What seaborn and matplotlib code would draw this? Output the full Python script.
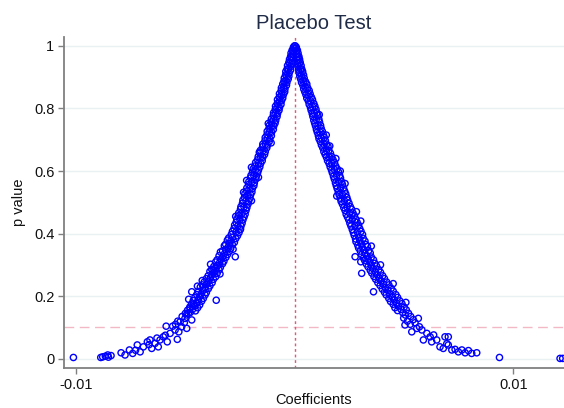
import matplotlib
matplotlib.use("Agg")
import matplotlib.pyplot as plt
import seaborn as sns
import pandas as pd

# Placebo coefficients: (p value, coefficient in units of 1e-3)
left_top = [
    (1.000, -0.01), (0.996, -0.06), (0.991, -0.02), (0.986, -0.12), (0.982, -0.04), (0.977, -0.17),
    (0.973, -0.06), (0.966, -0.19), (0.963, -0.08), (0.957, -0.24), (0.954, -0.12), (0.947, -0.27),
    (0.943, -0.13), (0.937, -0.33), (0.934, -0.18), (0.926, -0.35), (0.923, -0.19), (0.918, -0.41),
    (0.914, -0.25), (0.907, -0.42), (0.903, -0.27), (0.897, -0.48), (0.894, -0.30), (0.886, -0.50),
    (0.883, -0.36), (0.878, -0.55), (0.874, -0.38), (0.866, -0.61), (0.862, -0.45), (0.857, -0.62),
    (0.853, -0.46), (0.847, -0.70), (0.844, -0.52), (0.836, -0.71), (0.833, -0.55), (0.828, -0.79),
    (0.824, -0.61), (0.816, -0.80), (0.813, -0.63), (0.807, -0.88), (0.803, -0.70), (0.797, -0.89),
    (0.794, -0.72), (0.786, -0.97), (0.783, -0.79), (0.778, -0.98), (0.774, -0.81), (0.766, -1.07),
    (0.762, -0.87), (0.757, -1.08), (0.753, -0.90), (0.746, -1.16), (0.744, -0.96), (0.736, -1.18),
    (0.733, -0.98), (0.727, -1.26), (0.724, -1.06), (0.716, -1.27), (0.713, -1.07), (0.707, -1.35),
    (0.703, -1.14), (0.697, -1.36), (0.694, -1.17), (0.686, -1.46), (0.683, -1.25), (0.678, -1.47),
    (0.674, -1.28), (0.666, -1.57), (0.662, -1.35), (0.657, -1.60), (0.653, -1.38), (0.646, -1.67),
    (0.644, -1.46), (0.636, -1.70), (0.633, -1.49), (0.627, -1.79), (0.624, -1.56), (0.616, -1.82),
    (0.613, -1.60), (0.607, -1.90), (0.603, -1.66), (0.597, -1.93), (0.594, -1.70), (0.586, -2.00),
    (0.583, -1.76), (0.578, -2.02), (0.574, -1.78), (0.566, -2.10), (0.562, -1.85), (0.557, -2.11),
    (0.553, -1.87), (0.546, -2.19), (0.544, -1.94), (0.536, -2.20), (0.533, -1.96), (0.527, -2.28),
    (0.524, -2.02), (0.516, -2.30), (0.513, -2.05), (0.507, -2.37), (0.503, -2.11), (0.497, -2.39),
    (0.494, -2.14), (0.486, -2.46), (0.483, -2.19), (0.478, -2.48), (0.474, -2.23), (0.466, -2.56),
    (0.462, -2.27), (0.457, -2.58), (0.453, -2.32), (0.446, -2.65), (0.444, -2.37), (0.436, -2.68),
    (0.433, -2.41), (0.427, -2.75), (0.424, -2.46), (0.416, -2.78), (0.413, -2.50), (0.407, -2.85),
    (0.403, -2.55), (0.397, -2.90),
    (0.985, -0.09), (0.965, -0.15), (0.945, -0.22), (0.925, -0.29), (0.905, -0.36), (0.885, -0.44),
    (0.865, -0.51), (0.845, -0.60), (0.825, -0.69), (0.805, -0.77), (0.785, -0.87), (0.765, -0.96),
    (0.745, -1.05), (0.725, -1.15), (0.705, -1.24), (0.685, -1.34), (0.665, -1.45), (0.645, -1.56),
    (0.625, -1.66), (0.605, -1.78), (0.585, -1.87), (0.565, -1.96), (0.545, -2.05), (0.525, -2.14),
    (0.505, -2.23), (0.485, -2.32), (0.465, -2.41), (0.445, -2.51), (0.425, -2.60), (0.405, -2.69),
    (0.505, -1.98), (0.414, -2.48), (0.570, -2.20), (0.660, -1.62), (0.752, -1.21),
    (0.612, -1.98), (0.532, -2.34), (0.455, -2.70), (0.690, -1.08), (0.580, -1.66),
]

left_mid = [
    (0.393, -2.62), (0.388, -2.84), (0.386, -3.02), (0.384, -2.70), (0.377, -2.92), (0.379, -3.08),
    (0.372, -2.76), (0.368, -2.98), (0.366, -3.16), (0.364, -2.85), (0.357, -3.05), (0.361, -3.22),
    (0.352, -2.93), (0.349, -3.14), (0.345, -3.30), (0.343, -2.99), (0.337, -3.20), (0.341, -3.40),
    (0.333, -3.08), (0.327, -3.28), (0.329, -3.46), (0.324, -3.15), (0.318, -3.37), (0.316, -3.55),
    (0.312, -3.24), (0.307, -3.44), (0.309, -3.62), (0.304, -3.30), (0.298, -3.52), (0.295, -3.70),
    (0.292, -3.40), (0.288, -3.60), (0.286, -3.80), (0.284, -3.46), (0.277, -3.68), (0.279, -3.88),
    (0.273, -3.55), (0.268, -3.78), (0.265, -3.96), (0.262, -3.62), (0.258, -3.86), (0.256, -4.04),
    (0.254, -3.72), (0.248, -3.94), (0.245, -4.14), (0.243, -3.78), (0.238, -4.02), (0.236, -4.22),
    (0.233, -3.88), (0.227, -4.10), (0.229, -4.32), (0.224, -3.95), (0.218, -4.19), (0.215, -4.40),
    (0.212, -4.04), (0.207, -4.28), (0.205, -4.48), (0.204, -4.10), (0.198, -4.35), (0.195, -4.57),
    (0.193, -4.18), (0.188, -4.42), (0.186, -4.64), (0.184, -4.26), (0.178, -4.50), (0.175, -4.72),
    (0.172, -4.35), (0.168, -4.58), (0.165, -4.80), (0.163, -4.44), (0.157, -4.68), (0.155, -4.90),
    (0.153, -4.54), (0.148, -4.78), (0.145, -5.00),
    (0.326, -2.72), (0.187, -3.59), (0.283, -3.73), (0.214, -4.71), (0.250, -4.23),
    (0.350, -2.82), (0.302, -3.85), (0.232, -4.45), (0.271, -3.42), (0.190, -4.85),
]

left_tail = [
    (0.004, -10.12), (0.004, -8.87), (0.006, -8.78), (0.008, -8.66), (0.012, -8.55), (0.005, -8.52),
    (0.010, -8.40), (0.019, -7.94), (0.012, -7.76), (0.028, -7.56), (0.017, -7.41), (0.044, -7.20),
    (0.022, -7.07), (0.038, -6.92), (0.054, -6.74), (0.060, -6.62), (0.033, -6.54), (0.049, -6.39),
    (0.038, -6.24), (0.060, -6.16), (0.070, -6.01), (0.104, -5.88), (0.054, -5.83), (0.081, -5.70),
    (0.104, -5.58), (0.092, -5.47), (0.062, -5.37), (0.086, -5.30), (0.118, -5.24), (0.102, -5.17),
    (0.129, -5.02), (0.097, -4.94), (0.145, -4.87), (0.161, -4.79), (0.124, -4.71), (0.172, -4.64),
    (0.177, -4.48), (0.140, -4.95), (0.135, -5.15), (0.120, -5.35), (0.115, -5.05), (0.110, -5.45),
    (0.075, -5.92), (0.066, -6.30), (0.045, -6.66), (0.027, -7.28),
]

right_top = [
    (1.000, 0.02), (0.996, 0.07), (0.991, 0.03), (0.986, 0.12), (0.982, 0.05), (0.977, 0.15),
    (0.973, 0.07), (0.966, 0.19), (0.963, 0.08), (0.957, 0.22), (0.954, 0.11), (0.947, 0.25),
    (0.943, 0.13), (0.937, 0.29), (0.934, 0.15), (0.926, 0.32), (0.923, 0.18), (0.918, 0.36),
    (0.914, 0.20), (0.907, 0.40), (0.903, 0.23), (0.897, 0.43), (0.894, 0.27), (0.886, 0.49),
    (0.883, 0.31), (0.878, 0.55), (0.874, 0.37), (0.866, 0.59), (0.862, 0.41), (0.857, 0.66),
    (0.853, 0.46), (0.847, 0.70), (0.844, 0.51), (0.836, 0.76), (0.833, 0.55), (0.828, 0.81),
    (0.824, 0.62), (0.816, 0.87), (0.813, 0.66), (0.807, 0.92), (0.803, 0.72), (0.797, 0.97),
    (0.794, 0.75), (0.786, 1.01), (0.783, 0.80), (0.778, 1.05), (0.774, 0.83), (0.766, 1.10),
    (0.762, 0.87), (0.757, 1.13), (0.753, 0.91), (0.746, 1.18), (0.744, 0.95), (0.736, 1.21),
    (0.733, 0.99), (0.727, 1.26), (0.724, 1.03), (0.716, 1.31), (0.713, 1.08), (0.707, 1.35),
    (0.703, 1.11), (0.697, 1.40), (0.694, 1.17), (0.686, 1.45), (0.683, 1.22), (0.678, 1.52),
    (0.674, 1.28), (0.666, 1.56), (0.662, 1.33), (0.657, 1.63), (0.653, 1.39), (0.646, 1.69),
    (0.644, 1.45), (0.636, 1.75), (0.633, 1.50), (0.627, 1.82), (0.624, 1.57), (0.616, 1.87),
    (0.613, 1.62), (0.607, 1.94), (0.603, 1.68), (0.597, 2.00), (0.594, 1.72), (0.586, 2.05),
    (0.583, 1.77), (0.578, 2.09), (0.574, 1.81), (0.566, 2.14), (0.562, 1.86), (0.557, 2.18),
    (0.553, 1.90), (0.546, 2.23), (0.544, 1.94), (0.536, 2.28), (0.533, 1.99), (0.527, 2.33),
    (0.524, 2.03), (0.516, 2.38), (0.513, 2.08), (0.507, 2.42), (0.503, 2.12), (0.497, 2.48),
    (0.494, 2.18), (0.486, 2.54), (0.483, 2.24), (0.478, 2.60), (0.474, 2.30), (0.466, 2.66),
    (0.462, 2.35), (0.457, 2.73), (0.453, 2.41), (0.446, 2.79), (0.444, 2.47), (0.436, 2.85),
    (0.433, 2.52), (0.427, 2.92), (0.424, 2.57), (0.416, 2.97), (0.413, 2.63), (0.407, 3.03),
    (0.403, 2.68), (0.397, 3.10),
    (0.985, 0.09), (0.965, 0.14), (0.945, 0.20), (0.925, 0.26), (0.905, 0.31), (0.885, 0.41),
    (0.865, 0.51), (0.845, 0.61), (0.825, 0.71), (0.805, 0.82), (0.785, 0.90), (0.765, 0.98),
    (0.745, 1.06), (0.725, 1.15), (0.705, 1.23), (0.685, 1.34), (0.665, 1.45), (0.645, 1.57),
    (0.625, 1.69), (0.605, 1.81), (0.585, 1.91), (0.565, 2.00), (0.545, 2.09), (0.525, 2.18),
    (0.505, 2.27), (0.485, 2.39), (0.465, 2.51), (0.445, 2.63), (0.425, 2.75), (0.405, 2.86),
    (0.560, 2.30), (0.470, 2.82), (0.640, 1.88), (0.715, 1.44),
    (0.600, 2.08), (0.520, 1.92), (0.440, 3.02), (0.780, 1.12), (0.680, 1.60),
]

right_mid = [
    (0.394, 2.72), (0.388, 2.93), (0.385, 3.13), (0.383, 2.78), (0.378, 2.97), (0.376, 3.21),
    (0.374, 2.80), (0.367, 3.05), (0.365, 3.25), (0.363, 2.88), (0.357, 3.08), (0.359, 3.32),
    (0.354, 2.92), (0.348, 3.17), (0.346, 3.38), (0.344, 3.00), (0.337, 3.21), (0.338, 3.45),
    (0.333, 3.06), (0.328, 3.30), (0.325, 3.50), (0.322, 3.14), (0.318, 3.35), (0.316, 3.60),
    (0.314, 3.20), (0.307, 3.44), (0.305, 3.66), (0.303, 3.27), (0.297, 3.51), (0.296, 3.74),
    (0.294, 3.35), (0.288, 3.58), (0.285, 3.84), (0.283, 3.45), (0.277, 3.69), (0.276, 3.92),
    (0.274, 3.52), (0.268, 3.77), (0.265, 4.02), (0.263, 3.62), (0.257, 3.87), (0.256, 4.10),
    (0.254, 3.70), (0.248, 3.95), (0.245, 4.20), (0.243, 3.80), (0.238, 4.06), (0.236, 4.30),
    (0.234, 3.90), (0.227, 4.14), (0.225, 4.41), (0.223, 4.00), (0.218, 4.26), (0.216, 4.50),
    (0.213, 4.10), (0.207, 4.34), (0.205, 4.62), (0.204, 4.18), (0.197, 4.46), (0.196, 4.70),
    (0.193, 4.30), (0.188, 4.55), (0.185, 4.80), (0.183, 4.38), (0.177, 4.66), (0.176, 4.90),
    (0.174, 4.50), (0.168, 4.74), (0.165, 5.00), (0.163, 4.58), (0.158, 4.86), (0.156, 5.10),
    (0.154, 4.70), (0.147, 4.94), (0.145, 5.20),
    (0.326, 2.76), (0.214, 3.60), (0.273, 3.06),
    (0.360, 3.50), (0.300, 3.92), (0.240, 4.50), (0.180, 5.08), (0.310, 3.02),
]

right_tail = [
    (0.140, 5.05), (0.135, 5.30), (0.130, 4.98), (0.125, 5.42), (0.120, 5.15), (0.115, 5.50),
    (0.110, 5.28), (0.108, 5.04), (0.086, 5.35), (0.097, 5.58), (0.129, 5.65), (0.092, 5.81),
    (0.060, 5.88), (0.081, 6.04), (0.070, 6.19), (0.054, 6.26), (0.060, 6.49), (0.038, 6.64),
    (0.033, 6.79), (0.070, 6.87), (0.070, 7.02), (0.044, 7.02), (0.028, 7.18), (0.030, 7.33),
    (0.022, 7.48), (0.028, 7.64), (0.019, 7.79), (0.026, 7.94), (0.017, 8.09), (0.019, 8.32),
    (0.004, 9.36), (0.001, 12.13), (0.001, 12.25), (0.102, 5.70), (0.076, 6.35), (0.048, 6.95),
]

x_ticks = [-0.01, 0.01]
x_tick_labels = ["-0.01", "0.01"]
y_ticks = [0, 0.2, 0.4, 0.6, 0.8, 1]
y_tick_labels = ["0", "0.2", "0.4", "0.6", "0.8", "1"]
p_cutoff = 0.1

rows = left_top + left_mid + left_tail + right_top + right_mid + right_tail
df = pd.DataFrame(rows, columns=["p", "coef_milli"])
df["coef"] = df["coef_milli"] / 1000

sns.set_theme(style="white")
plt.rcParams["font.family"] = ["Liberation Sans", "DejaVu Sans"]

fig = plt.figure(figsize=(5.64, 4.08), dpi=100)
ax = fig.add_axes([0.1135, 0.098, 0.8865, 0.811])

ax.set_axisbelow(True)
for t in y_ticks:
    ax.axhline(t, color="#e9f1f2", lw=1, zorder=0)

ax.axhline(p_cutoff, color="#f2b8c6", lw=1, ls=(0, (7, 4)), zorder=1)
ax.axvline(0, color="#e0587a", lw=1, ls=(0, (2, 2)), zorder=1)

sns.scatterplot(data=df, x="coef", y="p", ax=ax, marker="o", s=20,
                facecolors="none", edgecolor="#0000ff", linewidth=1.0, zorder=3)

ax.set_xlim(-0.01055, 0.01231)
ax.set_ylim(-0.0297, 1.028)
ax.set_xticks(x_ticks)
ax.set_xticklabels(x_tick_labels)
ax.set_yticks(y_ticks)
ax.set_yticklabels(y_tick_labels)

for s in ["top", "right"]:
    ax.spines[s].set_visible(False)
for s in ["left", "bottom"]:
    ax.spines[s].set_color("#808080")
    ax.spines[s].set_linewidth(1.3)

ax.tick_params(axis="both", which="both", direction="out", length=4, width=1,
               color="#808080", labelsize=10.5, labelcolor="#111111", pad=3)
ax.tick_params(left=True, bottom=True)

ax.set_xlabel("Coefficients", fontsize=10.5, color="#111111", labelpad=1)
ax.set_ylabel("p value", fontsize=10.5, color="#111111", labelpad=6)
ax.set_title("Placebo Test", fontsize=14.5, color="#1f2b47", pad=6)

fig.savefig("out.png", dpi=100, facecolor="white")
